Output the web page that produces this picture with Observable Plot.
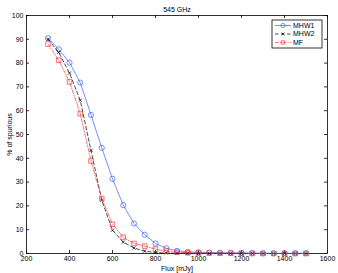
<!DOCTYPE html>
<html>
<head>
<meta charset="utf-8">
<script src="https://cdn.jsdelivr.net/npm/d3@7"></script>
<script src="https://cdn.jsdelivr.net/npm/@observablehq/plot@0.6"></script>
<style>
  html, body { margin: 0; padding: 0; background: #fff; }
  svg { font-family: "Liberation Sans", Arial, sans-serif; }
</style>
</head>
<body>
<div id="chart"></div>
<script>
const flux = [300,350,400,450,500,550,600,650,700,750,800,850,900,950,1000,1050,1100,1150,1200,1250,1300,1350,1400,1450,1500];
const mhw1 = [90.5,85.8,80.2,71.8,58.2,44.4,31.4,20.3,12.6,7.9,4.2,2.2,1.1,0.7,0.5,0.4,0.3,0.3,0.2,0.2,0.1,0.1,0.1,0.1,0.1];
const mhw2 = [90,84.5,75.8,64.4,43.3,22.4,9.8,4.8,2.3,1.0,0.4,0.2,0.1,0.1,0,0,0,0,0,0,0,0,0,0,0];
const mf   = [88,81.2,72.1,58.8,38.9,23.1,12.3,6.8,4.2,3.1,1.8,1.0,0.6,0.3,0.2,0.2,0.1,0.1,0.1,0,0,0,0,0,0];
const seriesNames = ["MHW1","MHW2","MF"];
const xTicks = [200,400,600,800,1000,1200,1400,1600];
const yTicks = [0,10,20,30,40,50,60,70,80,90,100];
const titleText = "545 GHz";
const xLabel = "Flux [mJy]";
const yLabel = "% of spurious";

const colors = {MHW1: "#3f5ff5", MHW2: "#000000", MF: "#f03a3a"};
const dashes = {MHW1: null, MHW2: "3.5,2.5", MF: "3.5,1.5,1,1.5"};
const symbols = {MHW1: "circle", MHW2: "times", MF: "square"};
const rs = {MHW1: 2.6, MHW2: 1.6, MF: 2.6};

const vals = {MHW1: mhw1, MHW2: mhw2, MF: mf};
const rows = seriesNames.flatMap(s => flux.map((f, i) => ({s, f, v: vals[s][i]})));

const W = 338, H = 273, mL = 26, mR = 11, mT = 15, mB = 20;
const fw = W - mL - mR, fh = H - mT - mB;

const marks = [
  Plot.frame({stroke: "black", strokeWidth: 0.8}),
  Plot.ruleX(xTicks, {x: d => d, insetTop: fh - 3, stroke: "black", strokeWidth: 0.8}),
  Plot.ruleX(xTicks, {x: d => d, insetBottom: fh - 3, stroke: "black", strokeWidth: 0.8}),
  Plot.ruleY(yTicks, {y: d => d, insetRight: fw - 3, stroke: "black", strokeWidth: 0.8}),
  Plot.ruleY(yTicks, {y: d => d, insetLeft: fw - 3, stroke: "black", strokeWidth: 0.8}),
  Plot.axisX(xTicks, {tickSize: 0, tickPadding: 3, fontSize: 7, tickFormat: d => String(d), label: xLabel, labelAnchor: "center", labelArrow: "none", labelOffset: 17}),
  Plot.axisY(yTicks, {tickSize: 0, tickPadding: 3, fontSize: 7, tickFormat: d => String(d), label: yLabel, labelAnchor: "center", labelArrow: "none", labelOffset: 19}),
  Plot.text([titleText], {frameAnchor: "top", dy: -8, fontSize: 7, text: d => d})
];
for (const s of seriesNames) {
  const data = rows.filter(d => d.s === s);
  marks.push(Plot.line(data, {x: "f", y: "v", stroke: colors[s], strokeWidth: 0.7, strokeDasharray: dashes[s]}));
  marks.push(Plot.dot(data, {x: "f", y: "v", stroke: colors[s], strokeWidth: 0.7, symbol: symbols[s], r: rs[s], fill: "none"}));
}

const svg = Plot.plot({
  width: W, height: H,
  marginLeft: mL, marginRight: mR, marginTop: mT, marginBottom: mB,
  style: {fontFamily: "'Liberation Sans', Arial, sans-serif", fontSize: "7px", color: "black", background: "white"},
  x: {domain: [200, 1600]},
  y: {domain: [0, 100]},
  marks
});
document.getElementById("chart").appendChild(svg);

// legend
const g = d3.select(svg).append("g").attr("font-size", 7).attr("text-anchor", "start")
  .attr("font-family", "'Liberation Sans', Arial, sans-serif");
const lx = 272, ly = 20, lw = 50, lh = 28;
g.append("rect").attr("x", lx).attr("y", ly).attr("width", lw).attr("height", lh)
  .attr("fill", "white").attr("stroke", "black").attr("stroke-width", 0.8);
seriesNames.forEach((s, i) => {
  const yy = ly + 5.5 + i * 8.5;
  g.append("line").attr("x1", lx + 3).attr("x2", lx + 19).attr("y1", yy).attr("y2", yy)
    .attr("stroke", colors[s]).attr("stroke-width", 0.7).attr("stroke-dasharray", dashes[s]);
  const sym = d3.symbol().type({circle: d3.symbolCircle, times: d3.symbolTimes, square: d3.symbolSquare}[symbols[s]])
    .size(s === "MHW1" ? 14 : s === "MHW2" ? 6 : 12);
  g.append("path").attr("d", sym()).attr("transform", `translate(${lx + 11},${yy})`)
    .attr("fill", "none").attr("stroke", colors[s]).attr("stroke-width", 0.7);
  g.append("text").attr("x", lx + 21).attr("y", yy).attr("dy", "0.35em").attr("text-anchor", "start").text(s);
});
</script>
</body>
</html>
